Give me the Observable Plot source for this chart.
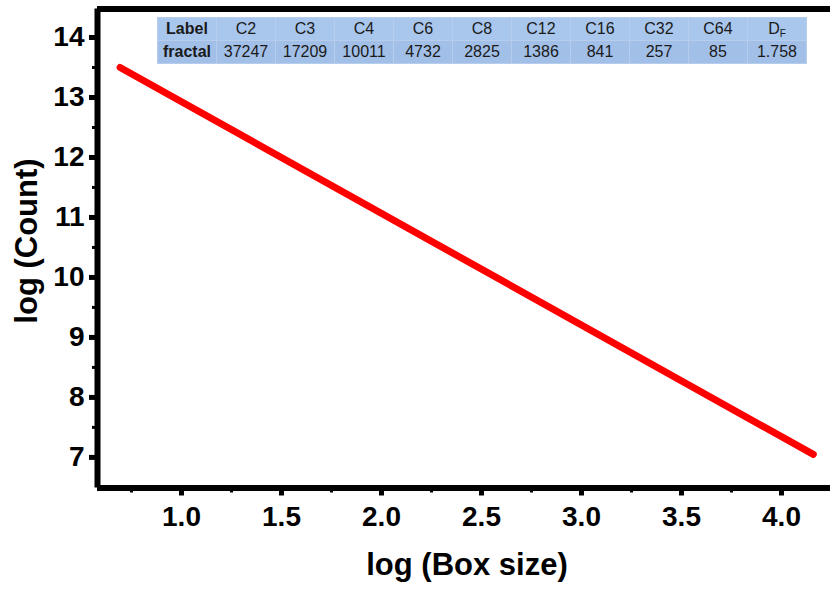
<!DOCTYPE html>
<html>
<head>
<meta charset="utf-8">
<script src="https://cdn.jsdelivr.net/npm/d3@7"></script>
<script src="https://cdn.jsdelivr.net/npm/@observablehq/plot@0.6"></script>
<style>
  html, body { margin: 0; padding: 0; background: #fff; }
  body { position: relative; width: 830px; height: 590px; overflow: hidden; font-family: "Liberation Sans", Arial, sans-serif; }
  #chart { position: absolute; left: 0; top: 0; }
  .lbl { position: absolute; font-weight: bold; font-size: 31px; color: #000; line-height: 1; white-space: nowrap; }
  table.info { position: absolute; left: 157px; top: 17px; border-collapse: collapse; font-size: 16px; color: #1a1a1a; }
  table.info td { width: 58px; height: 22px; padding: 0; text-align: center; border: 1px solid #b7cdee; line-height: 22px; }
  table.info tr.r1 td { background: #a9c6ec; }
  table.info tr.r2 td { background: #a2bfe8; }
  table.info td.hd { font-weight: bold; }
  table.info sub { font-size: 10px; vertical-align: -3px; line-height: 0; }
</style>
</head>
<body>
<div id="chart"></div>
<script>
// ---- data ----
const lineX = [0.693, 4.159];          // log (Box size)
const lineY = [13.5, 7.05];            // log (Count)
const xTicks = [1.0, 1.5, 2.0, 2.5, 3.0, 3.5, 4.0];
const xMinorTicks = [0.75, 1.25, 1.75, 2.25, 2.75, 3.25, 3.75];
const yTicks = [7, 8, 9, 10, 11, 12, 13, 14];
const yMinorTicks = [7.5, 8.5, 9.5, 10.5, 11.5, 12.5, 13.5];
const xDomain = [0.58, 4.245];
const yDomain = [6.49, 14.475];
const tableLabels = ["C2", "C3", "C4", "C6", "C8", "C12", "C16", "C32", "C64"];
const tableValues = ["37247", "17209", "10011", "4732", "2825", "1386", "841", "257", "85"];
const fractalDim = "1.758";
const xLabel = "log (Box size)";
const yLabel = "log (Count)";

const pts = lineX.map((x, i) => ({x, y: lineY[i]}));

const plot = Plot.plot({
  width: 830,
  height: 590,
  marginLeft: 97,
  marginRight: 0,
  marginTop: 8.5,
  marginBottom: 102.5,
  x: {domain: xDomain},
  y: {domain: yDomain},
  style: {fontFamily: "'Liberation Sans', Arial, sans-serif", fontSize: "28px", fontWeight: "bold", color: "#000", background: "transparent", overflow: "visible"},
  marks: [
    Plot.axisX(xMinorTicks, {tickSize: 5, strokeWidth: 3, text: null, label: null}),
    Plot.axisY(yMinorTicks, {tickSize: 5, strokeWidth: 3, text: null, label: null}),
    Plot.axisX(xTicks, {tickSize: 8, tickPadding: 10, strokeWidth: 5, tickFormat: d => d.toFixed(1), label: null}),
    Plot.axisY(yTicks, {tickSize: 8, tickPadding: 5, strokeWidth: 5, tickFormat: d => String(d), label: null}),
    Plot.ruleY([yDomain[0], yDomain[1]], {stroke: "#000", strokeWidth: 6}),
    Plot.ruleX([xDomain[0]], {stroke: "#000", strokeWidth: 6, y1: yDomain[0], y2: yDomain[1]}),
    Plot.line(pts, {x: "x", y: "y", stroke: "#ff0000", strokeWidth: 7, strokeLinecap: "round"})
  ]
});
document.getElementById("chart").appendChild(plot);

// table
const table = document.createElement("table");
table.className = "info";
const r1 = document.createElement("tr"); r1.className = "r1";
const r2 = document.createElement("tr"); r2.className = "r2";
function cell(row, html, cls) { const td = document.createElement("td"); td.innerHTML = html; if (cls) td.className = cls; row.appendChild(td); }
cell(r1, "Label", "hd");
cell(r2, "fractal", "hd");
tableLabels.forEach((l, i) => { cell(r1, l); cell(r2, tableValues[i]); });
cell(r1, "D<sub>F</sub>");
cell(r2, fractalDim);
table.appendChild(r1); table.appendChild(r2);
document.body.appendChild(table);

// axis labels
const xl = document.createElement("div");
xl.className = "lbl"; xl.textContent = xLabel;
xl.style.left = "467px"; xl.style.top = "549px"; xl.style.transform = "translateX(-50%)";
document.body.appendChild(xl);
const yl = document.createElement("div");
yl.className = "lbl"; yl.textContent = yLabel;
yl.style.left = "26px"; yl.style.top = "241px"; yl.style.transform = "translate(-50%,-50%) rotate(-90deg)";
document.body.appendChild(yl);
</script>
</body>
</html>
